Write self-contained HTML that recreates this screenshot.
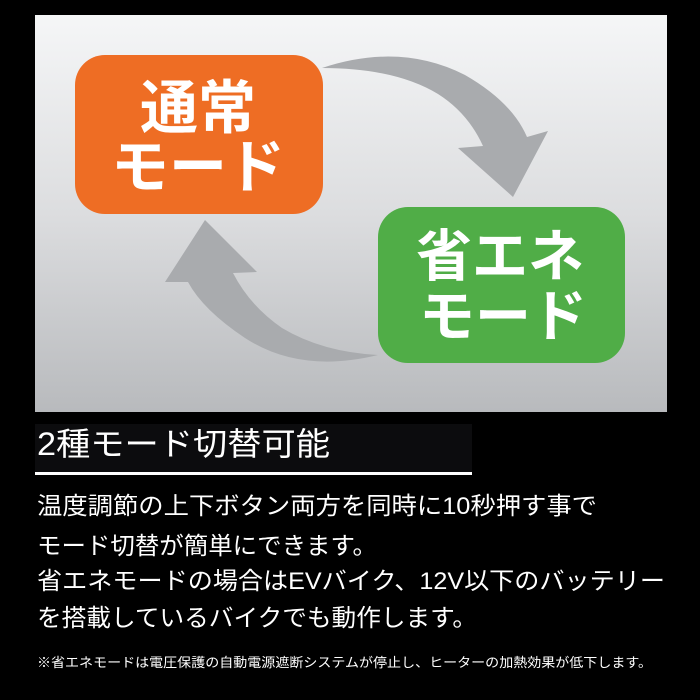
<!DOCTYPE html>
<html><head><meta charset="utf-8"><style>
html,body{margin:0;padding:0;background:#000;}
svg{display:block;}
text{font-family:"Liberation Sans","Noto Sans CJK JP",sans-serif;}
</style></head><body>
<svg width="700" height="700" viewBox="0 0 700 700" xmlns="http://www.w3.org/2000/svg">
<defs>
<linearGradient id="bg" x1="0" y1="0" x2="0" y2="1">
<stop offset="0" stop-color="#f5f6f7"/>
<stop offset="0.5" stop-color="#dcdddf"/>
<stop offset="1" stop-color="#b8babd"/>
</linearGradient>
</defs>
<rect x="0" y="0" width="700" height="700" fill="#000"/>
<rect x="35" y="15" width="632" height="397" fill="url(#bg)"/>
<path d="M322,68 Q400,42 465,75 Q512,102 527,137 L548,131 L513,197 L458,148 L483,146 Q468,113 438,94 Q395,68 322,68 Z" fill="#a9abae"/>
<path d="M378,355 Q300,374 245,338 Q203,310 188,282 L165,282 L205,220 L257,272 L233,273 Q250,306 282,328 Q322,352 378,355 Z" fill="#a9abae"/>
<rect x="75" y="55" width="248" height="159" rx="30" fill="#ee6d24"/>
<rect x="378" y="207" width="247" height="156" rx="30" fill="#50ad47"/>
<g fill="#fff" font-weight="bold" text-anchor="middle">
<text x="198" y="128" font-size="58">通常</text>
<text x="198" y="187" font-size="58">モード</text>
<text x="500" y="276" font-size="56">省エネ</text>
<text x="503" y="336" font-size="56">モード</text>
</g>
<rect x="35" y="424" width="437" height="48" fill="#0c0c0e"/>
<rect x="35" y="472" width="437" height="3" fill="#fff"/>
<text x="37" y="455" font-size="32" fill="#fff" textLength="293" lengthAdjust="spacingAndGlyphs">2種モード切替可能</text>
<g fill="#fff" font-size="24">
<text x="37" y="514" textLength="560" lengthAdjust="spacingAndGlyphs">温度調節の上下ボタン両方を同時に10秒押す事で</text>
<text x="37" y="554" textLength="340" lengthAdjust="spacingAndGlyphs">モード切替が簡単にできます。</text>
<text x="37" y="589" textLength="628" lengthAdjust="spacingAndGlyphs">省エネモードの場合はEVバイク、12V以下のバッテリー</text>
<text x="37" y="626" textLength="440" lengthAdjust="spacingAndGlyphs">を搭載しているバイクでも動作します。</text>
</g>
<text x="37" y="667" font-size="13" fill="#fff" textLength="615" lengthAdjust="spacingAndGlyphs">※省エネモードは電圧保護の自動電源遮断システムが停止し、ヒーターの加熱効果が低下します。</text>
</svg>
</body></html>
